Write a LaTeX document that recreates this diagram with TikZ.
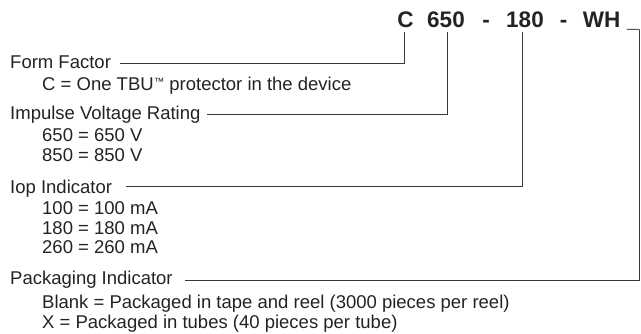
\documentclass[tikz,border=0pt]{standalone}
\usepackage{fontspec}
\setmainfont{Liberation Sans}
\definecolor{txt}{RGB}{35,35,35}
\definecolor{ln}{RGB}{55,55,55}
\newcommand{\smalltm}{\raisebox{5pt}{\fontsize{10.5}{11}\selectfont ™}}
\begin{document}
\begin{tikzpicture}[x=1pt,y=-1pt,
 lbl/.style={anchor=base west,inner sep=0pt,text=txt,font=\fontsize{18.5}{20}\selectfont},
 hdr/.style={anchor=base,inner sep=0pt,text=txt,font=\fontsize{22.5}{24}\selectfont\bfseries,text depth=0pt},
 conn/.style={draw=ln,line width=1pt}]
\useasboundingbox (0,0) rectangle (641,333);
\node[hdr] (hC) at (405.5,27) {C};
\node[hdr] (h650) at (446,27) {650};
\node[hdr] (hd1) at (486,27) {-};
\node[hdr] (h180) at (525,27) {180};
\node[hdr] (hd2) at (563.5,27) {-};
\node[hdr] (hWH) at (601.5,27) {WH};
\node[hdr] (hU) at (633.5,27) {\_};
\node[lbl] (ff) at (10,68) {Form Factor};
\node[lbl] (ffc) at (42,90.5) {C = One TBU\smalltm{} protector in the device};
\node[lbl] (iv) at (10,119) {Impulse Voltage Rating};
\node[lbl] (iv1) at (42,141.5) {650 = 650 V};
\node[lbl] (iv2) at (42,161.5) {850 = 850 V};
\node[lbl] (iop) at (10,193) {Iop Indicator};
\node[lbl] (iop1) at (42,214) {100 = 100 mA};
\node[lbl] (iop2) at (42,234) {180 = 180 mA};
\node[lbl] (iop3) at (42,253.5) {260 = 260 mA};
\node[lbl] (pk) at (10,284) {Packaging Indicator};
\node[lbl] (pk1) at (42,308) {Blank = Packaged in tape and reel (3000 pieces per reel)};
\node[lbl] (pk2) at (42,328) {X = Packaged in tubes (40 pieces per tube)};
\coordinate (ffe) at (120,63);
\coordinate (ive) at (207,114);
\coordinate (iope) at (126,186.5);
\coordinate (pke) at (185,280.5);
\draw[conn] ([xshift=-1.5pt,yshift=-5pt]hC.south) |- (ffe);
\draw[conn] ([xshift=1.5pt,yshift=-5pt]h650.south) |- (ive);
\draw[conn] ([xshift=-2.5pt,yshift=-5pt]h180.south) |- (iope);
\draw[conn] ([yshift=-2pt]hU.south east) |- (pke);
\end{tikzpicture}
\end{document}
